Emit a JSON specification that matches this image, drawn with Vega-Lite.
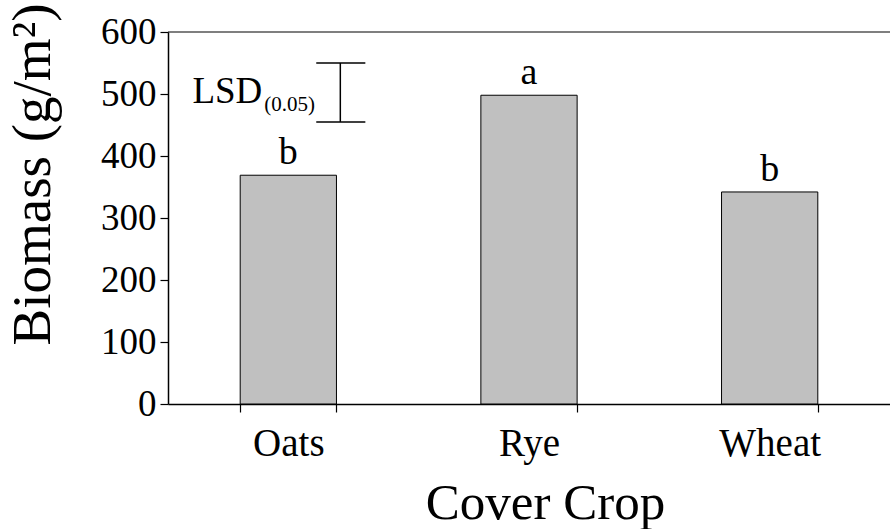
{
  "$schema": "https://vega.github.io/schema/vega-lite/v6.json",
  "autosize": {"type": "none"},
  "padding": {"left": 168, "top": 32, "right": 0, "bottom": 125},
  "width": 722,
  "height": 372,
  "background": "white",
  "config": {
    "view": {"stroke": null},
    "font": "Liberation Serif",
    "axis": {"grid": false, "domainColor": "black", "tickColor": "black", "labelColor": "black", "titleColor": "black", "labelFont": "Liberation Serif", "titleFont": "Liberation Serif", "titleFontWeight": "normal", "domainWidth": 1.5, "tickWidth": 1.2}
  },
  "datasets": {
    "bars": [
      {"crop": "Oats", "biomass": 369, "letter": "b"},
      {"crop": "Rye", "biomass": 498, "letter": "a"},
      {"crop": "Wheat", "biomass": 342, "letter": "b"}
    ],
    "lsd": [{"crop": "Oats", "lo": 455, "hi": 550}],
    "caps": [{"crop": "Oats", "v": 455}, {"crop": "Oats", "v": 550}],
    "top": [{"v": 600}],
    "lsdlabel": [{"crop": "Oats", "main": "LSD", "sub": "(0.05)", "ymain": 485, "ysub": 473}]
  },
  "layer": [
    {
      "data": {"name": "bars"},
      "mark": {"type": "bar", "fill": "#c0c0c0", "stroke": "black", "strokeWidth": 1},
      "encoding": {
        "x": {"field": "crop", "type": "nominal", "sort": ["Oats", "Rye", "Wheat"],
          "scale": {"paddingInner": 0.6, "paddingOuter": 0.3},
          "axis": {"title": "Cover Crop", "labelAngle": 0, "labelFontSize": 39, "titleFontSize": 51, "tickBand": "extent", "tickSize": 8, "labelPadding": 12, "titlePadding": 15, "titleX": 377}},
        "y": {"field": "biomass", "type": "quantitative",
          "scale": {"domain": [0, 600], "nice": false},
          "axis": {"title": "Biomass (g/m²)", "values": [0, 100, 200, 300, 400, 500, 600], "labelFontSize": 37, "titleFontSize": 55, "tickSize": 8, "labelPadding": 4, "titlePadding": 39, "titleY": 142}}
      }
    },
    {
      "data": {"name": "bars"},
      "mark": {"type": "text", "fontSize": 38, "baseline": "alphabetic", "dy": -11, "color": "black"},
      "encoding": {
        "x": {"field": "crop", "type": "nominal", "sort": ["Oats", "Rye", "Wheat"]},
        "y": {"field": "biomass", "type": "quantitative"},
        "text": {"field": "letter"}
      }
    },
    {
      "data": {"name": "top"},
      "mark": {"type": "rule", "color": "black", "strokeWidth": 1.2},
      "encoding": {"y": {"field": "v", "type": "quantitative"}}
    },
    {
      "data": {"name": "lsd"},
      "mark": {"type": "rule", "color": "black", "strokeWidth": 1.5},
      "encoding": {
        "x": {"field": "crop", "type": "nominal", "bandPosition": 1.04},
        "y": {"field": "lo", "type": "quantitative"},
        "y2": {"field": "hi"}
      }
    },
    {
      "data": {"name": "caps"},
      "mark": {"type": "rule", "color": "black", "strokeWidth": 1.5},
      "encoding": {
        "x": {"field": "crop", "type": "nominal", "bandPosition": 0.79},
        "x2": {"field": "crop", "bandPosition": 1.3},
        "y": {"field": "v", "type": "quantitative"}
      }
    },
    {
      "data": {"name": "lsdlabel"},
      "mark": {"type": "text", "fontSize": 37, "align": "right", "baseline": "alphabetic", "color": "black"},
      "encoding": {
        "x": {"field": "crop", "type": "nominal", "bandPosition": 0.23},
        "y": {"field": "ymain", "type": "quantitative"},
        "text": {"field": "main"}
      }
    },
    {
      "data": {"name": "lsdlabel"},
      "mark": {"type": "text", "fontSize": 21, "align": "left", "baseline": "alphabetic", "color": "black"},
      "encoding": {
        "x": {"field": "crop", "type": "nominal", "bandPosition": 0.25},
        "y": {"field": "ysub", "type": "quantitative"},
        "text": {"field": "sub"}
      }
    }
  ]
}
